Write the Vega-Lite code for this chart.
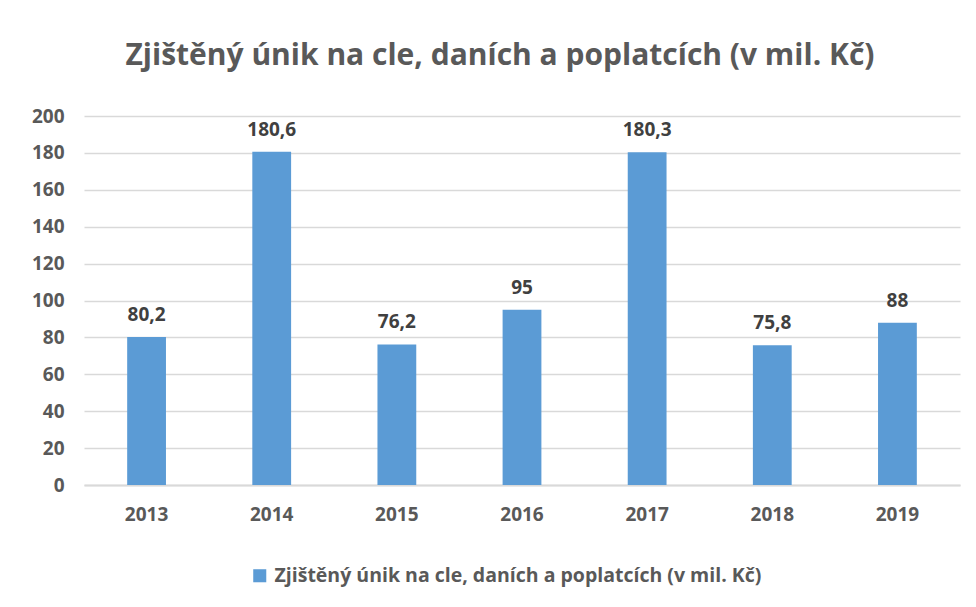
{
  "$schema": "https://vega.github.io/schema/vega-lite/v6.json",
  "autosize": {"type": "none"},
  "width": 876,
  "height": 369,
  "padding": {"left": 84, "top": 116, "right": 16, "bottom": 122},
  "background": "#ffffff",
  "config": {
    "locale": {"number": {"decimal": ",", "thousands": " ", "grouping": [3], "currency": ["", " Kč"]}},
    "view": {"stroke": null},
    "font": "Open Sans"
  },
  "title": {
    "text": "Zjištěný únik na cle, daních a poplatcích (v mil. Kč)",
    "font": "Open Sans",
    "fontSize": 30,
    "fontWeight": "bold",
    "color": "#595959",
    "anchor": "middle",
    "dx": -22,
    "offset": 36
  },
  "data": {
    "values": [
      {"rok": "2013", "serie": "Zjištěný únik na cle, daních a poplatcích (v mil. Kč)", "hodnota": 80.2},
      {"rok": "2014", "serie": "Zjištěný únik na cle, daních a poplatcích (v mil. Kč)", "hodnota": 180.6},
      {"rok": "2015", "serie": "Zjištěný únik na cle, daních a poplatcích (v mil. Kč)", "hodnota": 76.2},
      {"rok": "2016", "serie": "Zjištěný únik na cle, daních a poplatcích (v mil. Kč)", "hodnota": 95},
      {"rok": "2017", "serie": "Zjištěný únik na cle, daních a poplatcích (v mil. Kč)", "hodnota": 180.3},
      {"rok": "2018", "serie": "Zjištěný únik na cle, daních a poplatcích (v mil. Kč)", "hodnota": 75.8},
      {"rok": "2019", "serie": "Zjištěný únik na cle, daních a poplatcích (v mil. Kč)", "hodnota": 88}
    ]
  },
  "encoding": {
    "x": {
      "field": "rok",
      "type": "nominal",
      "scale": {"paddingInner": 0.69, "paddingOuter": 0.345},
      "axis": {
        "title": null,
        "labelAngle": 0,
        "labelFont": "Open Sans",
        "labelFontSize": 19,
        "labelFontWeight": "bold",
        "labelColor": "#595959",
        "labelPadding": 20,
        "ticks": false,
        "domainColor": "#D9D9D9",
        "domainWidth": 2
      }
    },
    "y": {
      "field": "hodnota",
      "type": "quantitative",
      "scale": {"domain": [0, 200]},
      "axis": {
        "title": null,
        "values": [0, 20, 40, 60, 80, 100, 120, 140, 160, 180, 200],
        "labelFont": "Open Sans",
        "labelFontSize": 19,
        "labelFontWeight": "bold",
        "labelColor": "#595959",
        "labelPadding": 20,
        "ticks": false,
        "domain": false,
        "gridColor": "#D9D9D9",
        "gridWidth": 1.5
      }
    }
  },
  "layer": [
    {
      "mark": {"type": "bar", "color": "#5B9BD5"},
      "encoding": {
        "color": {
          "field": "serie",
          "type": "nominal",
          "scale": {"range": ["#5B9BD5"]},
          "legend": {
            "title": null,
            "orient": "none",
            "legendX": 166,
            "legendY": 450,
            "symbolType": "square",
            "symbolSize": 170,
            "symbolStrokeWidth": 0,
            "labelFont": "Open Sans",
            "labelFontSize": 19.5,
            "labelFontWeight": "bold",
            "labelColor": "#595959",
            "labelLimit": 800,
            "labelOffset": 5
          }
        }
      }
    },
    {
      "mark": {
        "type": "text",
        "baseline": "bottom",
        "dy": -12,
        "font": "Open Sans",
        "fontSize": 19,
        "fontWeight": "bold",
        "color": "#404040"
      },
      "encoding": {
        "text": {"field": "hodnota", "type": "quantitative", "format": ".4~r"}
      }
    }
  ]
}
